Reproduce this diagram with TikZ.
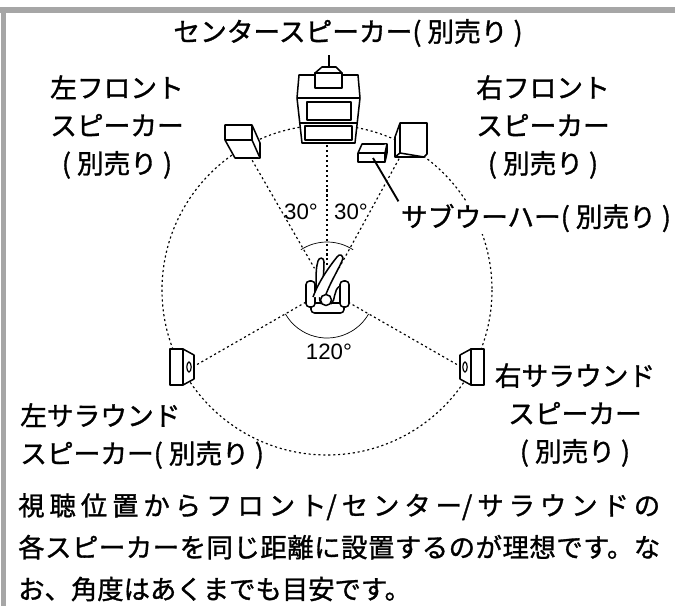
\documentclass[tikz,border=0pt]{standalone}
\usepackage{fontspec}
\setmainfont{Noto Sans CJK JP}[RawFeature={embolden=1.2}]
\newfontfamily\latinfont{Liberation Sans}
\XeTeXlinebreaklocale "ja"
\XeTeXlinebreakskip=0pt plus 6pt\relax
\definecolor{framegray}{RGB}{166,166,166}

\begin{document}
\begin{tikzpicture}[x=0.03cm, y=-0.03cm,
  spk/.style={draw, line width=1.3pt, fill=white, line join=round},
  fig/.style={draw, line width=1.3pt, fill=white, line join=round},
  sight/.style={line width=1pt, dash pattern=on 1.8pt off 2.4pt},
  lbl/.style={font=\fontsize{22.8}{32.3}\selectfont, inner sep=0pt, align=center},
  deg/.style={font=\latinfont\fontsize{19}{21}\selectfont, inner sep=0pt},
  note/.style={font=\fontsize{22.5}{35.7}\selectfont, inner sep=0pt, anchor=north west}]

  \useasboundingbox (0,0) rectangle (675,606);
  \fill[framegray] (0,7) rectangle (675,13);
  \fill[framegray] (1,7) rectangle (6,606);

  % listening position and speakers
  \coordinate (seat) at (327,290);
  \coordinate (cspk) at (327,143);
  \coordinate (lfspk) at (252,160);
  \coordinate (rfspk) at (400,157);
  \coordinate (lsspk) at (184,372);
  \coordinate (rsspk) at (470,372);
  \coordinate (subspk) at (373,158);

  \draw[sight] (seat) circle[radius=165];
  \foreach \s in {cspk,lfspk,rfspk,lsspk,rsspk}
    \draw[sight] (seat) -- (\s);

  \draw[line width=0.6pt] (seat) ++(-57:48) arc[start angle=-57, end angle=-123, radius=48];
  \draw[line width=0.6pt] (seat) ++(150:48) arc[start angle=150, end angle=30, radius=48];

  % center speaker
  \draw[spk] (297,98) -- (299,75) -- (358,75) -- (360,98) -- (355,143) -- (302,143) -- cycle;
  \draw[spk] (297,98) -- (360,98);
  \draw[spk] (307,102) rectangle (351,120);
  \draw[spk] (299,123) -- (358,123);
  \draw[spk] (305,126) rectangle (352,140);
  \draw[spk] (315,73) -- (322,67) -- (336,67) -- (342,73) -- cycle;
  \draw[spk] (315,73) rectangle (342,88);
  \draw[line width=1.3pt] (329,55) -- (329,67);

  % front speakers
  \draw[spk] (225,125) -- (252,125) -- (260,143) -- (260,158) -- (235,158) -- (225,140) -- cycle;
  \draw[spk] (225,140) -- (252,140) -- (260,158) (252,140) -- (252,125);
  \draw[spk] (400,123) -- (427,123) -- (427,154) -- (424,157) -- (395,157) -- (395,137) -- cycle;
  \draw[spk] (400,123) -- (400,153) -- (424,157) (400,153) -- (395,157);

  % subwoofer
  \draw[spk] (362,144) -- (387,144) -- (387,153) -- (385,162) -- (358,162) -- (358,153) -- cycle;
  \draw[spk] (358,153) -- (385,153) -- (387,144) (385,153) -- (385,162);

  % surround speakers
  \draw[spk] (471,349) rectangle (484,385);
  \draw[spk] (471,349) -- (460,355) -- (460,379) -- (471,385) -- cycle;
  \draw[line width=1pt] (465,367) ellipse[x radius=2.2, y radius=5];
  \draw[spk] (183,349) rectangle (170,385);
  \draw[spk] (183,349) -- (194,355) -- (194,379) -- (183,385) -- cycle;
  \draw[line width=1pt] (189,367) ellipse[x radius=2.2, y radius=5];

  % listener in the chair
  \fill[white] (seat) circle[radius=25];
  \draw[fig, rounded corners=3] (311,303) rectangle (344,313);
  \draw[fig, rounded corners=3] (306,281) rectangle (315,307);
  \draw[fig, rounded corners=3] (340,281) rectangle (349,307);
  \draw[fig] (315,286) .. controls (322,290) and (318,300) .. (321,304);
  \draw[fig] (340,286) .. controls (333,290) and (336,300) .. (331,304);
  \draw[fig] (316,289) .. controls (316,275) and (316,267) .. (318,261)
    .. controls (319,257) and (324,257) .. (324,262)
    .. controls (324,270) and (323,279) .. (323,287);
  \draw[fig] (313,297) .. controls (319,281) and (329,267) .. (337,257)
    .. controls (339,253) and (345,255) .. (342,261)
    .. controls (337,272) and (329,285) .. (325,297);
  \draw[fig] (326,300) circle[radius=5.5];

  % labels
  \node[lbl] (ctext) at (348,33) {センタースピーカー( 別売り )};
  \node[lbl] (lftext) at (117,127) {左フロント\\スピーカー\\( 別売り )};
  \node[lbl] (rftext) at (543,127) {右フロント\\スピーカー\\( 別売り )};
  \node[lbl, fill=white, inner sep=2pt] (subtext) at (536,218) {サブウーハー( 別売り )};
  \node[lbl, align=left, anchor=west] (lstext) at (20,436) {左サラウンド\\スピーカー( 別売り )};
  \node[lbl] (rstext) at (575,415) {右サラウンド\\スピーカー\\( 別売り )};
  \draw[line width=1.6pt] (subspk) -- (subtext.north west);

  \node[deg] (lang) at (301,212) {30°};
  \node[deg] (rang) at (351,212) {30°};
  \node[deg] (bang) at (329,352) {120°};

  \node[note] (note) at (18,493) {\parbox{19.26cm}{\tolerance=9999
    視聴位置からフロント/センター/サラウンドの\linebreak 各スピーカーを同じ距離に設置するのが理想です。な\linebreak お、角度はあくまでも目安です。}};
\end{tikzpicture}
\end{document}
